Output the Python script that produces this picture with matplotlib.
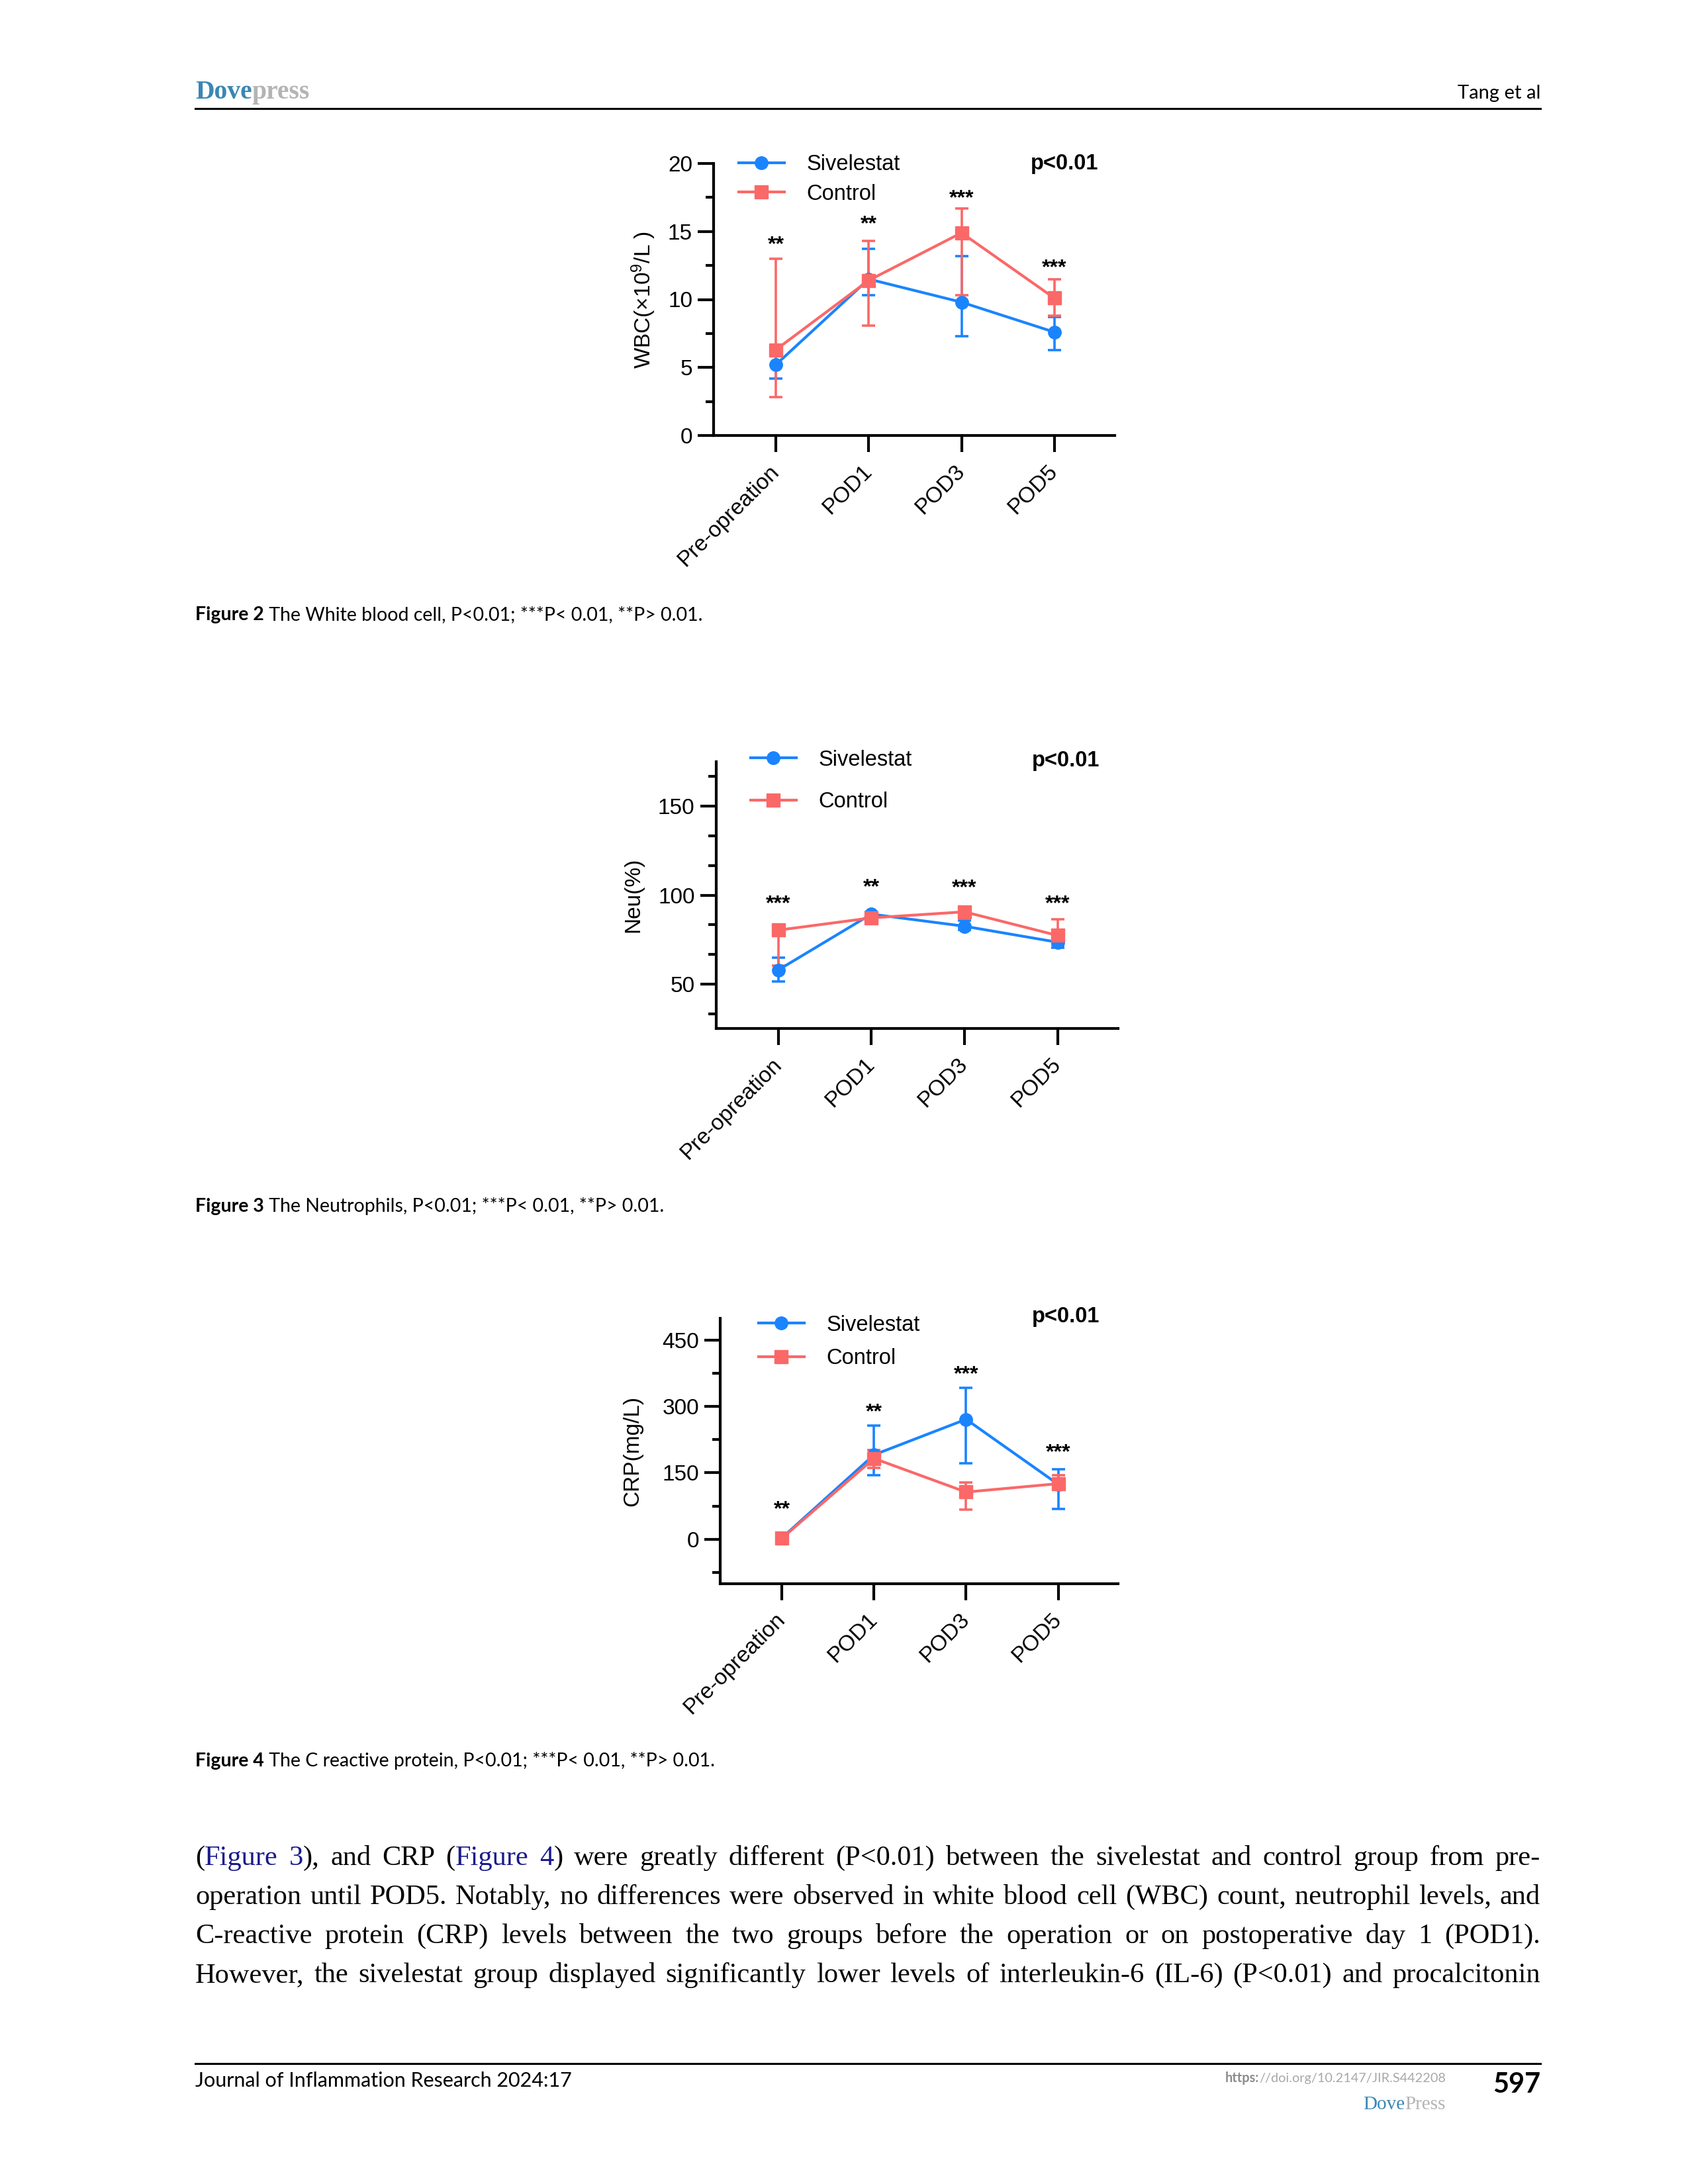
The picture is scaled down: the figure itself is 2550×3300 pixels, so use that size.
import matplotlib
matplotlib.use('Agg')
import matplotlib.pyplot as plt
from matplotlib.lines import Line2D
from matplotlib.transforms import ScaledTranslation, blended_transform_factory
import numpy as np

# ---------------- data ----------------
categories = ['Pre-opreation', 'POD1', 'POD3', 'POD5']
series_names = ['Sivelestat', 'Control']

# WBC (x10^9/L)
wbc_siv = [5.2, 11.5, 9.8, 7.6]
wbc_siv_lo = [4.2, 10.3, 7.3, 6.3]
wbc_siv_hi = [6.2, 13.7, 13.2, 8.7]
wbc_ctl = [6.3, 11.4, 14.9, 10.1]
wbc_ctl_lo = [2.8, 8.1, 10.3, 8.8]
wbc_ctl_hi = [13.0, 14.3, 16.7, 11.5]
wbc_stars = ['**', '**', '***', '***']
wbc_star_y = [14.0, 15.5, 17.4, 12.3]
wbc_major = [0, 5, 10, 15, 20]
wbc_minor = [2.5, 7.5, 12.5, 17.5]

# Neutrophils (%)
neu_siv = [57.9, 89.3, 82.5, 73.5]
neu_siv_lo = [51.5, 88.0, 80.3, 70.5]
neu_siv_hi = [64.7, 90.5, 85.6, 75.5]
neu_ctl = [80.3, 87.2, 90.6, 77.3]
neu_ctl_lo = [60.5, 85.8, 88.5, 71.8]
neu_ctl_hi = [82.5, 88.5, 92.5, 86.4]
neu_stars = ['***', '**', '***', '***']
neu_star_y = [94.8, 104.2, 104.0, 95.0]
neu_major = [50, 100, 150]
neu_minor = [33.33, 66.67, 83.33, 116.67, 133.33, 166.67]

# CRP (mg/L)
crp_siv = [3, 190.7, 271, 124]
crp_siv_lo = [0, 144.5, 172, 68]
crp_siv_hi = [6, 257, 342, 158]
crp_ctl = [2, 182.5, 106.5, 125.5]
crp_ctl_lo = [0, 161, 67, 111]
crp_ctl_hi = [5, 202, 128, 144.5]
crp_stars = ['**', '**', '***', '***']
crp_star_y = [66, 286, 372, 195]
crp_major = [0, 150, 300, 450]
crp_minor = [-75, 75, 225, 375]

captions = [
    ('Figure 2', ' The White blood cell, P<0.01; ***P< 0.01, **P> 0.01.'),
    ('Figure 3', ' The Neutrophils, P<0.01; ***P< 0.01, **P> 0.01.'),
    ('Figure 4', ' The C reactive protein, P<0.01; ***P< 0.01, **P> 0.01.'),
]

BLUE = '#1a84ff'
RED = '#fb6868'
LINK = '#1a1a8c'
K = 'black'

body_lines = [
    [[('(', K), ('Figure', LINK)], [('3', LINK), ('),', K)], [('and', K)], [('CRP', K)],
     [('(', K), ('Figure', LINK)], [('4', LINK), (')', K)], [('were', K)], [('greatly', K)],
     [('different', K)], [('(P<0.01)', K)], [('between', K)], [('the', K)], [('sivelestat', K)],
     [('and', K)], [('control', K)], [('group', K)], [('from', K)], [('pre-', K)]],
    [[(w, K)] for w in 'operation until POD5. Notably, no differences were observed in white blood cell (WBC) count, neutrophil levels, and'.split()],
    [[(w, K)] for w in 'C-reactive protein (CRP) levels between the two groups before the operation or on postoperative day 1 (POD1).'.split()],
    [[(w, K)] for w in 'However, the sivelestat group displayed significantly lower levels of interleukin-6 (IL-6) (P<0.01) and procalcitonin'.split()],
]

# ---------------- setup ----------------
plt.rcParams['font.family'] = ['Liberation Sans', 'DejaVu Sans']
plt.rcParams['mathtext.fontset'] = 'custom'
plt.rcParams['mathtext.rm'] = 'Liberation Sans'
plt.rcParams['mathtext.it'] = 'Liberation Sans:italic'
plt.rcParams['mathtext.bf'] = 'Liberation Sans:bold'

W, H = 2550, 3300
fig = plt.figure(figsize=(W / 100, H / 100), dpi=100)
fig.patch.set_facecolor('white')
renderer = fig.canvas.get_renderer()


def fx(px):
    return px / W


def fy(py):
    return 1 - py / H


def axes_box(left, top, right, bottom):
    return [fx(left), fy(bottom), (right - left) / W, (bottom - top) / H]


def seg_text(x, y, segs, ha='left', va='baseline'):
    objs, widths = [], []
    for s, props in segs:
        t = fig.text(0, fy(y), s, va=va, ha='left', **props)
        widths.append(t.get_window_extent(renderer).width)
        objs.append(t)
    total = sum(widths)
    cx = x if ha == 'left' else x - total
    for t, w in zip(objs, widths):
        t.set_x(fx(cx))
        cx += w


def draw_chart(box, siv, siv_lo, siv_hi, ctl, ctl_lo, ctl_hi, stars, star_y,
               ylim, major, minor, ylabel, ylabel_x, ylabel_weight,
               leg_xy, leg_spacing, p_xy):
    ax = fig.add_axes(box)
    x = np.arange(len(categories))
    for vals, lo, hi, col, z in [(siv, siv_lo, siv_hi, BLUE, 2), (ctl, ctl_lo, ctl_hi, RED, 2.1)]:
        v = np.array(vals, float)
        err = [v - np.array(lo, float), np.array(hi, float) - v]
        ax.errorbar(x, v, yerr=err, fmt='none', ecolor=col, elinewidth=2.6,
                    capsize=7, capthick=2.6, zorder=z)
    ax.plot(x, siv, color=BLUE, lw=3.0, marker='o', markersize=14, zorder=3,
            label=series_names[0], clip_on=False)
    ax.plot(x, ctl, color=RED, lw=3.0, marker='s', markersize=14, zorder=3.1,
            label=series_names[1], clip_on=False)
    for xi, s, sy in zip(x, stars, star_y):
        ax.text(xi, sy, s, ha='center', va='center', fontsize=23, fontweight='bold')
    ax.set_xlim(-0.67, 3.65)
    ax.set_ylim(*ylim)
    ax.set_yticks(major)
    ax.set_yticks(minor, minor=True)
    ax.set_xticks(x)
    ax.set_xticklabels([])
    # category labels, rotated, placed below the ticks
    trans = blended_transform_factory(ax.transData, ax.transAxes) + \
        ScaledTranslation(-11 / 100, -(18 + 10) / 72, fig.dpi_scale_trans)
    for xi, lab in zip(x, categories):
        ax.text(xi, 0, lab, transform=trans, rotation=45, rotation_mode='anchor',
                ha='right', va='top', fontsize=24)
    for sp in ['top', 'right']:
        ax.spines[sp].set_visible(False)
    for sp in ['left', 'bottom']:
        ax.spines[sp].set_linewidth(3)
    ax.tick_params(axis='y', which='major', length=17, width=3, labelsize=24, pad=6)
    ax.tick_params(axis='y', which='minor', length=8.5, width=3)
    ax.tick_params(axis='x', which='major', length=18, width=3, labelsize=24, pad=10)
    ax.set_ylabel(ylabel, fontsize=24, fontweight=ylabel_weight)
    ax.yaxis.set_label_coords(ylabel_x, 0.5)
    ax.yaxis.label.set_va('center')
    ax.legend(loc='center left', bbox_to_anchor=leg_xy, frameon=False, borderpad=0,
              borderaxespad=0, handlelength=2.1, handletextpad=1.05,
              labelspacing=leg_spacing, fontsize=23.5, numpoints=1)
    ax.text(p_xy[0], p_xy[1], 'p<0.01', transform=ax.transAxes, ha='left', va='center',
            fontsize=23.5, fontweight='bold')
    return ax


draw_chart(axes_box(1078, 247, 1684, 658), wbc_siv, wbc_siv_lo, wbc_siv_hi,
           wbc_ctl, wbc_ctl_lo, wbc_ctl_hi, wbc_stars, wbc_star_y,
           (0, 20), wbc_major, wbc_minor, r'WBC(×10$^{\mathregular{9}}$/L )', -0.175, 'normal',
           (0.0627, 0.942), 0.42, (0.79, 1.0))

draw_chart(axes_box(1081.5, 1151, 1689, 1554), neu_siv, neu_siv_lo, neu_siv_hi,
           neu_ctl, neu_ctl_lo, neu_ctl_hi, neu_stars, neu_star_y,
           (25, 175), neu_major, neu_minor, 'Neu(%)', -0.205, 'normal',
           (0.0864, 0.928), 1.0, (0.786, 1.003))

draw_chart(axes_box(1088, 1991.5, 1689, 2392.5), crp_siv, crp_siv_lo, crp_siv_hi,
           crp_ctl, crp_ctl_lo, crp_ctl_hi, crp_stars, crp_star_y,
           (-100, 500), crp_major, crp_minor, 'CRP(mg/L)', -0.2196, 'normal',
           (0.0965, 0.91), 0.6, (0.784, 1.006))

# ---------------- page furniture ----------------
LEFT, RIGHT = 295, 2327
SANS = ['Lato', 'DejaVu Sans']
SERIF = ['Liberation Serif', 'DejaVu Serif']

# header
seg_text(LEFT, 149, [('Dove', dict(family=SERIF, fontsize=28.5, fontweight='bold', color='#3a87b2')),
                     ('press', dict(family=SERIF, fontsize=28.5, fontweight='bold', color='#b4b4b4'))])
fig.text(fx(RIGHT), fy(149), 'Tang et al', ha='right', va='baseline', family=SANS, fontsize=21)
fig.add_artist(Line2D([fx(LEFT), fx(RIGHT)], [fy(164), fy(164)], transform=fig.transFigure,
                      color='black', lw=2.2))

# captions
for (bold, rest), yc in zip(captions, [937, 1831, 2669]):
    seg_text(LEFT, yc, [(bold, dict(family=SANS, fontsize=20.5, fontweight='bold')),
                        (rest, dict(family=SANS, fontsize=20.5))])

# body text (justified)
for words, yb in zip(body_lines, [2818, 2877, 2936, 2995]):
    items = []
    for word in words:
        segs = []
        for s, col in word:
            t = fig.text(0, fy(yb), s, color=col, family=SERIF, fontsize=30.5, va='baseline', ha='left')
            segs.append((t, t.get_window_extent(renderer).width))
        items.append(segs)
    total = sum(w for segs in items for _, w in segs)
    gap = max((RIGHT - LEFT - total) / (len(items) - 1), 4)
    cx = LEFT
    for segs in items:
        for t, w in segs:
            t.set_x(fx(cx))
            cx += w
        cx += gap

# footer
fig.add_artist(Line2D([fx(LEFT), fx(RIGHT)], [fy(3118), fy(3118)], transform=fig.transFigure,
                      color='black', lw=2.2))
fig.text(fx(LEFT), fy(3153), 'Journal of Inflammation Research 2024:17', ha='left', va='baseline',
         family=SANS, fontsize=22)
seg_text(2184, 3146, [('https:', dict(family=SANS, fontsize=14.3, fontweight='bold', color='#8c8c8c')),
                      ('//doi.org/10.2147/JIR.S442208', dict(family=SANS, fontsize=14.3, color='#a8a8a8'))],
         ha='right')
fig.text(fx(RIGHT), fy(3162), '597', ha='right', va='baseline', family=SANS, fontsize=30,
         fontweight='bold')
seg_text(2184, 3187, [('Dove', dict(family=SERIF, fontsize=21, color='#3a87b2')),
                      ('Press', dict(family=SERIF, fontsize=21, color='#b4b4b4'))], ha='right')

fig.savefig('out.png', dpi=100, facecolor='white')
